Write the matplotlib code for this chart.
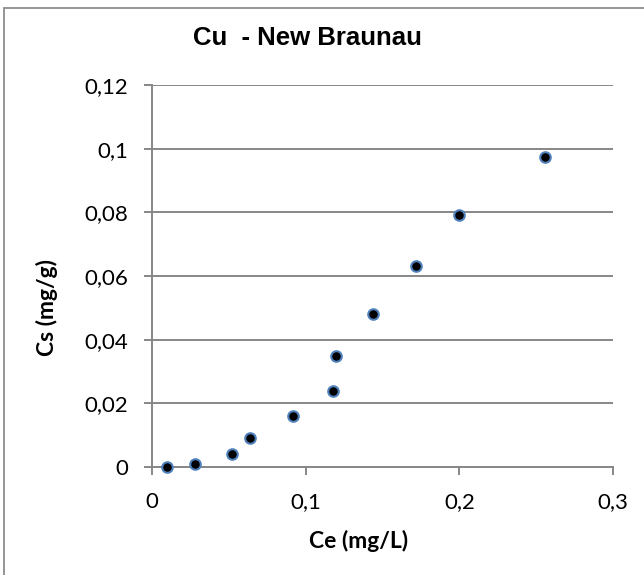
import matplotlib.pyplot as plt
from matplotlib.patches import Rectangle
from matplotlib.ticker import FuncFormatter

# données Cu - New Braunau
ce = [0.0098, 0.028, 0.0518, 0.064, 0.0915, 0.1178, 0.120, 0.1436, 0.1718, 0.1997, 0.2559]
cs = [0.0, 0.001, 0.0041, 0.0091, 0.016, 0.024, 0.035, 0.0481, 0.0632, 0.0792, 0.0973]

xticks = [0, 0.1, 0.2, 0.3]
yticks = [0, 0.02, 0.04, 0.06, 0.08, 0.1, 0.12]

grid_col = "#878787"

fig = plt.figure(figsize=(6.44, 5.75), dpi=100)
ax = fig.add_axes([0.236, 0.1878, 0.716, 0.6642])

ax.plot(ce, cs, linestyle="none", marker="o", markersize=7.6,
        markerfacecolor="black", markeredgecolor="#4F81BD", markeredgewidth=1.5,
        zorder=3, clip_on=False)

ax.set_xlim(0, 0.3)
ax.set_ylim(0, 0.12)
ax.set_xticks(xticks)
ax.set_yticks(yticks)

fmt = FuncFormatter(lambda v, p: ("%g" % round(v, 2)).replace(".", ","))
ax.xaxis.set_major_formatter(fmt)
ax.yaxis.set_major_formatter(fmt)

ax.grid(axis="y", color=grid_col, linewidth=1.4)
ax.set_axisbelow(True)
for s in ["top", "right"]:
    ax.spines[s].set_visible(False)
for s in ["left", "bottom"]:
    ax.spines[s].set_color(grid_col)
    ax.spines[s].set_linewidth(1.4)

ax.tick_params(axis="both", direction="out", length=6, width=1.4, color=grid_col,
               labelsize=16, labelcolor="black")
ax.tick_params(axis="y", pad=11)
ax.tick_params(axis="x", pad=12)
for lab in ax.get_xticklabels() + ax.get_yticklabels():
    lab.set_family("Lato")

# titre et étiquettes d'axes
fig.text(0.477, 0.934, "Cu  - New Braunau", ha="center", va="center",
         fontsize=18.5, fontweight="bold", family="Liberation Sans")
fig.text(0.557, 0.047, "Ce (mg/L)", ha="center", va="baseline",
         fontsize=16.5, fontweight="bold", family="Lato")
fig.text(0.073, 0.466, "Cs (mg/g)", ha="center", va="center", rotation=90,
         fontsize=16.5, fontweight="bold", family="Lato")

# cadre du graphique
fig.patches.append(Rectangle((0.006, -0.1), 1.2, 1.086, transform=fig.transFigure,
                             fill=False, edgecolor="#8c8c8c", linewidth=1.3))

fig.savefig("out.png", dpi=100)
